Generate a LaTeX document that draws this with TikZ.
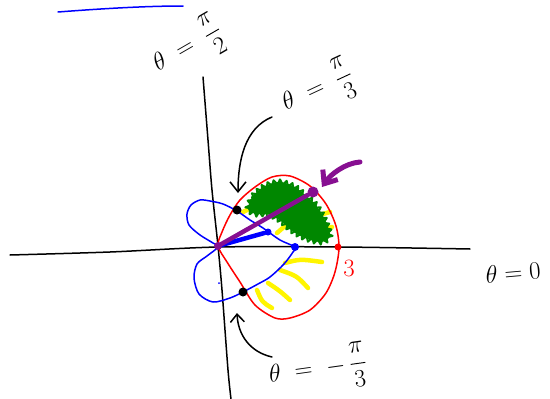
\documentclass[tikz,border=0pt]{standalone}
\usepackage{amsmath, amssymb}
\usepackage{xcolor}
\usepackage{tikz}
\usetikzlibrary{calc, arrows.meta, decorations.pathmorphing}

\definecolor{penblue}{RGB}{0,0,255}
\definecolor{penred}{RGB}{255,0,0}
\definecolor{pengreen}{RGB}{0,135,0}
\definecolor{penpurple}{RGB}{135,15,145}
\definecolor{penyellow}{RGB}{255,245,0}

\begin{document}
\begin{tikzpicture}[x=1pt, y=-1pt, >=stealth,
    ink/.style={line width=1.5pt, line cap=round, line join=round},
    hilite/.style={penyellow, line width=4.5pt, line cap=round},
    dotmark/.style={circle, inner sep=0pt, minimum size=#1},
    lbl/.style={font=\fontsize{23}{27}\selectfont, inner sep=1pt}]
    \useasboundingbox (0,0) rectangle (550,399);

    % axes
    \draw[ink] plot[smooth] coordinates {(10,255) (110,252) (218,247) (340,247) (470,249)};
    \draw[ink] plot[smooth] coordinates {(203,77) (208,140) (212,190) (218,246) (222,290) (228,370) (231,399)};
    \draw[ink, penblue] (58,12) .. controls (110,8) and (150,6) .. (183,6);

    % yellow strokes
    \draw[hilite] (243,212) -- (255,206);
    \draw[hilite] (277,233) -- (285,226);
    \draw[hilite] (316,216) -- (330,212);
    \draw[hilite] (322,230) -- (332,227);
    \draw[hilite] (285,263) .. controls (300,259) .. (322,262);
    \draw[hilite] (280,270) .. controls (297,276) .. (308,288);
    \draw[hilite] (268,283) .. controls (280,291) .. (290,300);
    \draw[hilite] (257,290) .. controls (262,302) .. (272,308);

    % green region
    \fill[pengreen] plot[smooth cycle] coordinates {(248,209) (253,196) (265,186) (280,182) (295,187)
        (306,196) (316,205) (325,220) (330,236) (321,242) (305,238) (291,230) (281,221) (268,214) (256,214)};
    \draw[pengreen, line width=2pt, line join=round, decorate, decoration={zigzag, segment length=6pt, amplitude=2.5pt}]
        plot[smooth cycle] coordinates {(248,209) (253,196) (265,186) (280,182) (295,187)
        (306,196) (316,205) (325,220) (330,236) (321,242) (305,238) (291,230) (281,221) (268,214) (256,214)};

    % r = 3 cos theta
    \draw[ink, penred] plot[smooth cycle] coordinates {(218,246) (222,232) (230,215) (240,200) (255,187)
        (272,177) (290,176) (310,186) (326,204) (336,226) (339,248) (335,272) (326,293) (310,310)
        (290,318) (275,318) (255,305) (240,282) (227,262)};

    % r = 1 + cos theta
    \draw[ink, penblue] plot[smooth cycle] coordinates {(295,247) (280,240) (263,228) (250,220) (237,211)
        (223,204) (210,201) (200,200) (191,205) (187,214) (189,225) (200,235) (213,243) (218,247)
        (207,256) (197,264) (194,278) (199,294) (213,302) (230,298) (243,292) (258,284) (270,277)
        (284,264) (293,252)};

    \coordinate (O) at (218,246);
    \node[dotmark=7pt, fill=penblue] (B1) at (268,232) {};
    \node[dotmark=8pt, fill=penblue] (B2) at (295,247) {};
    \node[dotmark=11pt, fill=penpurple] (P) at (313,192) {};

    \draw[penblue, line width=4.5pt, line cap=round] (O) -- (B1);
    \draw[penpurple, line width=4.5pt, line cap=round] (O) -- (P);

    \node[dotmark=8pt, fill=penpurple] (Odot) at (O) {};
    \node[dotmark=7pt, fill=penred] (R) at (338,247) {};
    \node[dotmark=9pt, fill=black] (A1) at (237,210) {};
    \node[dotmark=9pt, fill=black] (A2) at (243,292) {};
    \node[dotmark=2pt, fill=penblue] (bspeck) at (219,283) {};

    % pointers
    \coordinate (tailA) at (272,117);
    \coordinate (tipA) at (238,193);
    \coordinate (tailB) at (272,357);
    \coordinate (tipB) at (237,313);
    \coordinate (tailP) at (360,162);
    \coordinate (tipP) at (322,187);
    \draw[ink, -{Straight Barb[length=10pt, width=16pt]}] (tailA) .. controls (245,128) and (238,160) .. (tipA);
    \draw[ink, -{Straight Barb[length=8pt, width=14pt]}] (tailB) .. controls (250,352) and (238,335) .. (tipB);
    \draw[penpurple, line width=5pt, line cap=round, -{Straight Barb[length=11pt, width=18pt]}]
        (tailP) .. controls (345,163) and (330,175) .. (tipP);

    % labels
    \node[lbl, rotate=30] (t90) at (188,48) {$\theta\;=\;\dfrac{\pi}{2}$};
    \node[lbl, rotate=25] (t60) at (318,90) {$\theta\;=\;\dfrac{\pi}{3}$};
    \node[lbl, rotate=8] (tm60) at (318,370) {$\theta\;=\;-\,\dfrac{\pi}{3}$};
    \node[lbl, rotate=5] (t0) at (513,272) {$\theta=0$};
    \node[lbl, penred] (three) at (349,268) {$3$};
\end{tikzpicture}
\end{document}
